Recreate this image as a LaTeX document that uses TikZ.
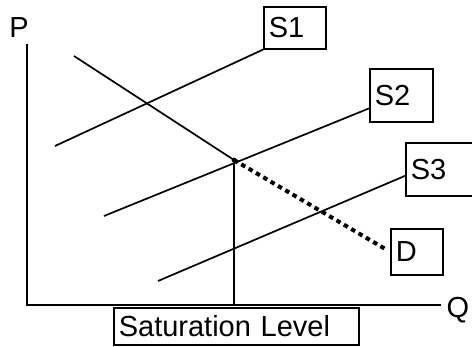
\documentclass[tikz,border=0pt]{standalone}
\usepackage{fontspec}
\setmainfont{Liberation Sans}
\usetikzlibrary{positioning, calc}

\begin{document}
\begin{tikzpicture}[
    x=1pt, y=-1pt,
    bigfont/.style={font=\fontsize{29}{32}\selectfont},
    labelbox/.style={draw, line width=1.6pt, anchor=north west, inner xsep=5pt, inner ysep=0pt, align=left, bigfont},
    curve/.style={line width=1.7pt},
    demanddots/.style={line width=4pt, dash pattern=on 4.5pt off 4pt},
  ]
    \useasboundingbox (0,0) rectangle (472,347);

    % Axes
    \coordinate (origin) at (26,305);
    \coordinate (ytop) at (27,44);
    \coordinate (xend) at (441,305);
    \draw[curve] (ytop) -- (27,305) -- (xend);
    \node[bigfont] (plabel) at (19,28) {P};
    \node[bigfont] (qlabel) at (458,310) {Q};

    % Boxes
    \node[labelbox, minimum height=42pt, text width=52pt] (s1box) at (263,6) {S1};
    \node[labelbox, minimum height=53pt, text width=53pt] (s2box) at (369,68) {S2};
    \node[labelbox, minimum height=53pt, text width=57pt] (s3box) at (405,142) {S3};
    \node[labelbox, minimum height=46pt, text width=42pt] (dbox) at (390,228) {D};
    \node[labelbox, minimum height=37pt, text width=235pt] (satbox) at (113,307) {Saturation Level};

    % Supply curves
    \coordinate (s1start) at (55,146);
    \coordinate (s2start) at (104,216);
    \coordinate (s3start) at (158,281);
    \draw[curve] (s1start) -- (s1box.south west);
    \draw[curve] (s2start) -- ($(s2box.south west)!0.26!(s2box.north west)$);
    \draw[curve] (s3start) -- ($(s3box.south west)!0.38!(s3box.north west)$);

    % Demand curve
    \coordinate (dstart) at (74,56);
    \coordinate (equil) at (234,160);
    \draw[curve] (dstart) -- (equil);
    \draw[demanddots, shorten >=6pt] (equil) -- (dbox.west);
    \fill (equil) circle (2.4pt);

    % Saturation level
    \draw[curve] (equil) -- (equil |- origin);

  \end{tikzpicture}
\end{document}
